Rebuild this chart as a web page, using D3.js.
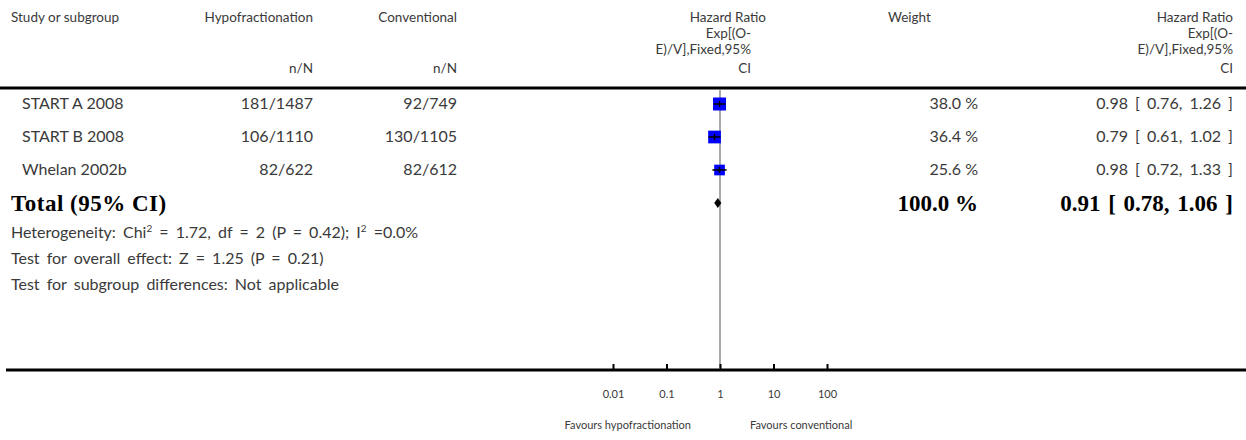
<!DOCTYPE html>
<html>
<head>
<meta charset="utf-8">
<script src="https://cdn.jsdelivr.net/npm/d3@7"></script>
<style>
  html, body { margin: 0; padding: 0; background: #fff; }
  svg { display: block; }
  .h { font-family: Lato, "Open Sans", sans-serif; font-size: 13.5px; fill: #3a3a3a; }
  .t { font-family: Lato, "Open Sans", sans-serif; font-size: 16px; fill: #3a3a3a; }
  .f { font-family: Lato, "Open Sans", sans-serif; font-size: 16px; fill: #3a3a3a; word-spacing: 3px; }
  .ci { word-spacing: 3px; }
  .b { font-family: "Liberation Serif", "DejaVu Serif", serif; font-weight: bold; font-size: 23px; fill: #000; }
  .s { font-family: Lato, "Open Sans", sans-serif; font-size: 11px; fill: #3a3a3a; }
</style>
</head>
<body>
<svg id="chart" width="1246" height="440"></svg>
<script>
// Study-level data
const studies = ["START A 2008", "START B 2008", "Whelan 2002b"];
const hypoEvents = ["181/1487", "106/1110", "82/622"];
const convEvents = ["92/749", "130/1105", "82/612"];
const hr = [0.98, 0.79, 0.98];
const ciLow = [0.76, 0.61, 0.72];
const ciHigh = [1.26, 1.02, 1.33];
const weight = [38.0, 36.4, 25.6];

// Pooled estimate
const totalLabel = "Total (95% CI)";
const totalHr = 0.91, totalLow = 0.78, totalHigh = 1.06;
const totalWeight = 100.0;

const footnotes = [
  "Test for overall effect: Z = 1.25 (P = 0.21)",
  "Test for subgroup differences: Not applicable"
];
const axisTicks = [0.01, 0.1, 1, 10, 100];
const favoursLeft = "Favours hypofractionation";
const favoursRight = "Favours conventional";
const hrHeader = ["Hazard Ratio", "Exp[(O-", "E)/V],Fixed,95%", "CI"];

const svg = d3.select("#chart");
const W = 1246;

const x = d3.scaleLog().domain([0.01, 100]).range([613, 827]);
const rowY = d3.scaleLinear().domain([0, 1]).range([104, 137]);
const boxSize = d3.scaleSqrt().domain([0, 38.0]).range([0, 13]);

const fmt2 = d3.format(".2f");
const fmt1 = d3.format(".1f");
const ciText = (m, l, h) => `${fmt2(m)} [ ${fmt2(l)}, ${fmt2(h)} ]`;

function text(g, cls, xx, yy, s, anchor) {
  return g.append("text").attr("class", cls).attr("x", xx).attr("y", yy)
    .attr("text-anchor", anchor || "start").text(s);
}

// Column headers
const hdr = svg.append("g");
text(hdr, "h", 11, 22, "Study or subgroup");
text(hdr, "h", 313, 22, "Hypofractionation", "end");
text(hdr, "h", 457, 22, "Conventional", "end");
text(hdr, "h", 313, 73, "n/N", "end");
text(hdr, "h", 457, 73, "n/N", "end");
text(hdr, "h", 888, 22, "Weight");
const hdrLineY = [22, 38, 54, 73];
hrHeader.forEach((s, i) => {
  text(hdr, "h", i === 0 ? 766 : 751, hdrLineY[i], s, "end");
  text(hdr, "h", 1233, hdrLineY[i], s, "end");
});

// Header rule and axis rule
svg.append("line").attr("x1", 0).attr("x2", W).attr("y1", 88).attr("y2", 88)
  .attr("stroke", "#000").attr("stroke-width", 3);
svg.append("line").attr("x1", 6).attr("x2", W).attr("y1", 370).attr("y2", 370)
  .attr("stroke", "#000").attr("stroke-width", 3);

// Line of no effect
svg.append("line").attr("x1", x(1)).attr("x2", x(1)).attr("y1", 89).attr("y2", 369)
  .attr("stroke", "#8c8c8c").attr("stroke-width", 1.5);

// Study rows
const rows = svg.append("g").selectAll("g").data(studies).join("g")
  .attr("transform", (d, i) => `translate(0,${rowY(i)})`);
rows.append("text").attr("class", "t").attr("x", 22).attr("y", 5).text(d => d);
rows.append("text").attr("class", "t").attr("x", 313).attr("y", 5).attr("text-anchor", "end").text((d, i) => hypoEvents[i]);
rows.append("text").attr("class", "t").attr("x", 457).attr("y", 5).attr("text-anchor", "end").text((d, i) => convEvents[i]);
rows.append("text").attr("class", "t").attr("x", 978).attr("y", 5).attr("text-anchor", "end").text((d, i) => fmt1(weight[i]) + " %");
rows.append("text").attr("class", "t ci").attr("x", 1233).attr("y", 5).attr("text-anchor", "end").text((d, i) => ciText(hr[i], ciLow[i], ciHigh[i]));
rows.append("rect")
  .attr("x", (d, i) => x(hr[i]) - boxSize(weight[i]) / 2)
  .attr("y", (d, i) => -boxSize(weight[i]) / 2)
  .attr("width", (d, i) => boxSize(weight[i]))
  .attr("height", (d, i) => boxSize(weight[i]))
  .attr("fill", "#0000ff");
rows.append("line")
  .attr("x1", (d, i) => x(ciLow[i])).attr("x2", (d, i) => x(ciHigh[i]))
  .attr("y1", 0).attr("y2", 0).attr("stroke", "#000").attr("stroke-width", 1.5);
rows.append("line")
  .attr("x1", (d, i) => x(hr[i])).attr("x2", (d, i) => x(hr[i]))
  .attr("y1", -3).attr("y2", 3).attr("stroke", "#000").attr("stroke-width", 1.5);

// Pooled row
const ty = rowY(3);
text(svg, "b", 11, ty + 8, totalLabel).style("letter-spacing", "0.5px");
text(svg, "b", 978, ty + 8, fmt1(totalWeight) + " %", "end");
text(svg, "b", 1233, ty + 8, ciText(totalHr, totalLow, totalHigh), "end").style("word-spacing", "2px");
svg.append("path")
  .attr("d", d3.line()([[x(totalLow), ty], [x(totalHr), ty - 5], [x(totalHigh), ty], [x(totalHr), ty + 5]]) + "Z")
  .attr("fill", "#000");

// Heterogeneity line with superscripts
const het = svg.append("text").attr("class", "f").attr("x", 11).attr("y", 238);
het.append("tspan").text("Heterogeneity: Chi");
het.append("tspan").attr("dy", -6).style("font-size", "10px").text("2");
het.append("tspan").attr("dy", 6).text(" = 1.72, df = 2 (P = 0.42); I");
het.append("tspan").attr("dy", -6).style("font-size", "10px").text("2");
het.append("tspan").attr("dy", 6).text(" =0.0%");

footnotes.forEach((f, i) => {
  text(svg, "f", 11, 264 + i * 26, f);
});

// Log axis
const axis = d3.axisBottom(x).tickValues(axisTicks).tickSize(-6).tickPadding(20)
  .tickFormat(d => String(d));
const ag = svg.append("g").attr("transform", "translate(0,370)").call(axis);
ag.select(".domain").remove();
ag.selectAll(".tick line").attr("stroke", "#000").attr("stroke-width", 2);
ag.selectAll(".tick text").attr("class", "s").attr("font-family", null).attr("font-size", null);

text(svg, "s", 691, 429, favoursLeft, "end");
text(svg, "s", 750, 429, favoursRight);
</script>
</body>
</html>
